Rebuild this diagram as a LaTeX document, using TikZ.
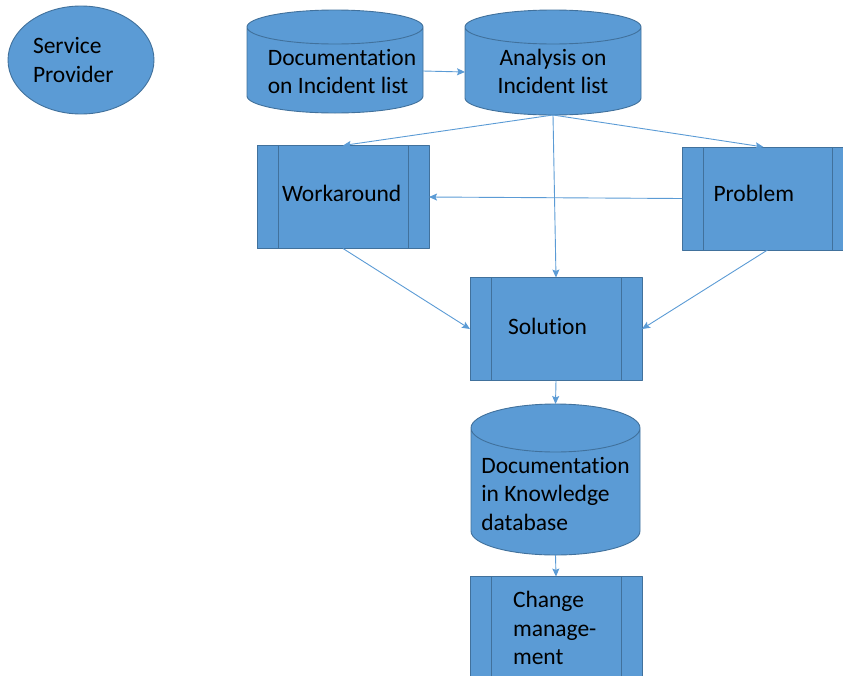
\documentclass[tikz,border=0pt]{standalone}
\usepackage{fontspec}
\setmainfont{Carlito}[Ligatures=NoCommon]
\usetikzlibrary{shapes.geometric,arrows.meta}
\definecolor{officeblue}{HTML}{5B9BD5}
\definecolor{officeedge}{HTML}{41719C}
\tikzset{
	shapebase/.style={fill=officeblue, draw=officeedge, line width=0.9pt, text=black, inner sep=0pt, outer sep=0pt},
	procbox/.style={shapebase, rectangle, minimum width=172pt, minimum height=103pt, align=left,
		path picture={\draw[officeedge, line width=0.9pt]
			([xshift=21pt]path picture bounding box.north west) -- ([xshift=21pt]path picture bounding box.south west)
			([xshift=-21pt]path picture bounding box.north east) -- ([xshift=-21pt]path picture bounding box.south east);}},
	% cylinder: width, height, cap radius
	dbcyl/.style n args={3}{rectangle, inner sep=0pt, outer sep=0pt, minimum width=#1pt, minimum height=#2pt,
		append after command={\pgfextra{
			\filldraw[x=1pt, y=1pt, fill=officeblue, draw=officeedge, line width=0.9pt]
				([yshift=-#3pt]\tikzlastnode.north west) -- ([yshift=#3pt]\tikzlastnode.south west)
				arc[start angle=180, end angle=360, x radius=#1/2, y radius=#3]
				-- ([yshift=-#3pt]\tikzlastnode.north east)
				arc[start angle=0, end angle=180, x radius=#1/2, y radius=#3] -- cycle
				([yshift=-#3pt]\tikzlastnode.north) ellipse[x radius=#1/2, y radius=#3];}}},
	dbtext/.style={align=left, text=black, inner sep=0pt},
	flow/.style={->, officeblue, line width=0.9pt}
}
\begin{document}
\begin{tikzpicture}[x=1pt, y=-1pt, font=\fontsize{23.5}{28.5}\selectfont, line join=round, >={Stealth[length=8pt,width=7pt,inset=1.5pt]}]
	\clip (0,0) rectangle (843,675);
	% shapes
	\node[shapebase, ellipse, minimum width=146pt, minimum height=108pt, text width=96pt, align=left] (provider) at (81,60) {Service\\Provider};
	\node[dbcyl={176}{103}{17},
		label={[dbtext, xshift=7pt, yshift=-10pt]center:{Documentation\\on Incident list}}] (doclist) at (335,61.5) {};
	\node[dbcyl={176}{105}{17},
		label={[dbtext, align=center, yshift=-9pt]center:{Analysis on\\Incident list}}] (analysis) at (553,62.5) {};
	\node[procbox, text width=122pt, text depth=8pt] (workaround) at (343,197) {Workaround};
	\node[procbox, text width=108pt, text depth=10pt, minimum width=171pt] (problem) at (767.5,198.5) {Problem};
	\node[procbox, text width=96pt, text depth=6pt] (solution) at (556,329) {Solution};
	\node[dbcyl={169}{151}{24},
		label={[dbtext, yshift=-14pt]center:{Documentation\\in Knowledge\\database}}] (knowledge) at (555.5,479.5) {};
	\node[procbox, text width=86pt] (change) at (556,628) {Change\\manage-\\ment};
	% connectors
	\draw[flow] ([yshift=-9.5pt]doclist.east) -- ([yshift=-9.5pt]analysis.west);
	\draw[flow] (analysis.south) -- (workaround.north);
	\draw[flow] (analysis.south) -- ([xshift=-4pt]problem.north);
	\draw[flow] (analysis.south) -- (solution.north);
	\draw[flow] (problem.west) -- (workaround.east);
	\draw[flow] (workaround.south) -- (solution.west);
	\draw[flow] (problem.south) -- (solution.east);
	\draw[flow] (solution.south) -- (knowledge.north);
	\draw[flow] (knowledge.south) -- (change.north);
\end{tikzpicture}
\end{document}
